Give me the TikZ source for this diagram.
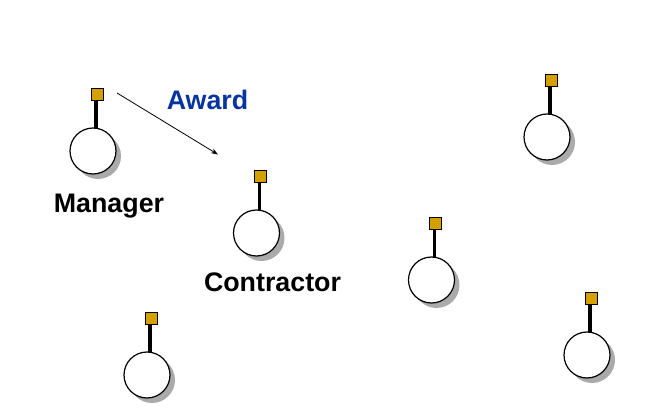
\documentclass[tikz,border=0pt]{standalone}
\usepackage{fontspec}
\setmainfont{Liberation Sans}
\definecolor{portgold}{RGB}{212,160,0}
\definecolor{awardblue}{RGB}{8,52,160}
\definecolor{shadowgray}{RGB}{170,170,170}
\tikzset{
  port/.style={draw=black, line width=0.9pt, fill=portgold, minimum size=12pt, inner sep=0pt},
  agent/.style={circle, draw=black, line width=1.2pt, fill=white, minimum size=46pt, inner sep=0pt},
  stick/.style={line width=3.6pt, draw=black},
  shade/.style={fill=shadowgray},
  lbl/.style={font=\fontsize{26.8}{30}\selectfont\bfseries, anchor=base, inner sep=0pt},
  msg/.style={draw=black, line width=0.8pt, -{Stealth[length=7pt,width=5pt]}}
}
\usetikzlibrary{arrows.meta}
\newcommand{\agentat}[3]{%
  % #1 name, #2 square x, #3 square y
  \fill[shade] (#2-4+5,#3+57+5) circle (23pt);
  \node[port] (#1port) at (#2,#3) {};
  \coordinate (#1stub) at (#2-1,#3+40);
  \draw[stick] (#2-1,#3+6) -- (#1stub);
  \node[agent] (#1) at (#2-4,#3+57) {};
  \node[port] at (#1port) {};
}
\begin{document}
\begin{tikzpicture}[x=1pt,y=-1pt]
  \useasboundingbox (0,0) rectangle (664,414);
  \agentat{mgr}{97}{94}
  \agentat{con}{260.5}{176}
  \agentat{ag1}{551}{80}
  \agentat{ag2}{435.5}{223}
  \agentat{ag3}{591}{298}
  \agentat{ag4}{151}{318}
  \node[lbl] (mgrlbl) at (109,213) {Manager};
  \node[lbl] (conlbl) at (272.5,291.5) {Contractor};
  \node[lbl, text=awardblue] (awardlbl) at (207.5,109.5) {Award};
  \coordinate (awardstart) at (117,93);
  \coordinate (awardend) at (218,154.5);
  \draw[msg] (awardstart) -- (awardend);
\end{tikzpicture}
\end{document}
